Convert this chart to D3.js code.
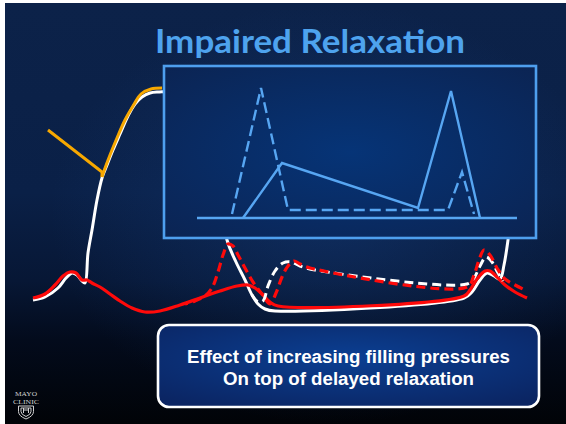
<!DOCTYPE html>
<html>
<head>
<meta charset="utf-8">
<script src="https://cdn.jsdelivr.net/npm/d3@7"></script>
<style>
  html, body { margin: 0; padding: 0; background: #fff; }
  svg { display: block; }
</style>
</head>
<body>
<svg id="chart" width="566" height="424"></svg>
<script>
// ---- Pressure tracings: [time (ms), pressure (mmHg)] ----
const lvSolid = [
  [6, 7.5], [30, 9], [56, 13.5], [72, 18.5], [84, 21], [94, 20], [104, 17], [110, 16],
  [116, 31], [124, 42.5], [134, 57.5], [144, 68.5], [154, 75], [166, 82.5], [180, 90.5],
  [196, 99.5], [210, 105.5], [224, 109], [240, 111], [256, 111.5], [270, 111.5],
  [320, 107.5], [370, 72.5], [394, 37.5], [412, 26.5], [430, 17.5], [444, 10], [456, 5.5],
  [470, 3], [490, 2], [868, 8.5], [884, 11.5], [900, 17.5], [914, 21], [928, 19.5],
  [940, 18], [948, 25], [956, 37.5], [970, 67.5]
];
const laSolid = [
  [6, 8.5], [30, 10.5], [50, 15], [66, 19.5], [80, 21.5], [92, 21], [104, 17.5], [114, 17.5],
  [124, 16], [140, 14], [160, 10.5], [180, 7], [204, 3.5], [230, 1.5], [260, 2], [300, 5],
  [340, 8.5], [380, 12], [414, 14.5], [436, 15], [450, 13.5], [464, 10.5], [480, 6.5],
  [496, 4.5], [868, 9.5], [880, 12.5], [894, 18], [910, 22], [920, 22], [934, 19],
  [950, 15], [970, 11.5], [994, 8.5]
];
const lvDashed = [
  [444, 10], [456, 6.5], [466, 7], [476, 14.5], [490, 22], [506, 26], [522, 26.5],
  [540, 24.5], [570, 22.5], [874, 15.5], [888, 18.5], [900, 24.5], [912, 29], [924, 26.5],
  [936, 21], [946, 17]
];
const laDashed = [
  [310, 5.5], [330, 7], [350, 9.5], [364, 13.5], [376, 21.5], [386, 30], [396, 35.5],
  [406, 34.5], [416, 30], [430, 23.5], [446, 16.5], [464, 10.5], [480, 5.5], [492, 11],
  [504, 19], [516, 24.5], [528, 27], [540, 25.5], [560, 23.5], [874, 14], [888, 20],
  [898, 27.5], [908, 32.5], [920, 30], [934, 23.5], [950, 18], [970, 15], [990, 12.5]
];
const aortic = [
  [36, 92.5], [144, 71.5], [144, 69], [148, 72], [160, 80], [174, 88.5], [190, 97.5],
  [206, 104.5], [222, 110.5], [242, 113], [264, 113.5]
];

// ---- Mitral inflow Doppler: [time (ms), velocity (cm/s)] ----
const dopplerBaseline = [[0, 0], [800, 0]];
const dopplerDelayed = [[115, 0], [212.5, 55], [552.5, 10], [635, 127], [707.5, 0]];
const dopplerFilling = [[87.5, 4], [160, 130], [227.5, 8], [627.5, 8], [662.5, 46], [692.5, 4]];

// ---- Text ----
const titleText = "Impaired Relaxation";
const noteLines = ["Effect of increasing filling pressures", "On top of delayed relaxation"];
const noteWidths = [323, 251];
const logoLines = ["MAYO", "CLINIC"];

const svg = d3.select("#chart");
const defs = svg.append("defs");

// background gradients
const bg = defs.append("linearGradient").attr("id", "bgFade")
  .attr("x1", 0).attr("y1", 0).attr("x2", 0).attr("y2", 1);
[[0, "#0c2249"], [0.45, "#0a2047"], [0.66, "#071735"], [0.8, "#030b1c"], [1, "#010307"]]
  .forEach(([o, c]) => bg.append("stop").attr("offset", o).attr("stop-color", c));

const glow = defs.append("radialGradient").attr("id", "bgGlow")
  .attr("cx", 0.58).attr("cy", 0.5).attr("r", 0.5);
glow.append("stop").attr("offset", 0).attr("stop-color", "#1a4c9a").attr("stop-opacity", 0.35);
glow.append("stop").attr("offset", 1).attr("stop-color", "#1a4c9a").attr("stop-opacity", 0);

const insetFill = defs.append("radialGradient").attr("id", "insetFill")
  .attr("cx", 0.5).attr("cy", 0.5).attr("r", 0.7);
insetFill.append("stop").attr("offset", 0).attr("stop-color", "#063477");
insetFill.append("stop").attr("offset", 1).attr("stop-color", "#0b2453");

const noteFill = defs.append("radialGradient").attr("id", "noteFill")
  .attr("cx", 0.5).attr("cy", 0.4).attr("r", 0.7);
noteFill.append("stop").attr("offset", 0).attr("stop-color", "#0b3f92");
noteFill.append("stop").attr("offset", 1).attr("stop-color", "#0b2563");

svg.append("rect").attr("x", 5).attr("y", 3).attr("width", 561).attr("height", 421)
  .attr("fill", "url(#bgFade)");
svg.append("rect").attr("x", 5).attr("y", 3).attr("width", 561).attr("height", 421)
  .attr("fill", "url(#bgGlow)");

// ---- scales ----
const x = d3.scaleLinear().domain([0, 1000]).range([30, 530]);
const y = d3.scaleLinear().domain([0, 115]).range([315, 85]);
const ix = d3.scaleLinear().domain([0, 800]).range([197, 517]);
const iy = d3.scaleLinear().domain([0, 130]).range([218, 88]);

const smooth = d3.line().x(d => x(d[0])).y(d => y(d[1])).curve(d3.curveCatmullRom.alpha(0.5));
const straight = d3.line().x(d => x(d[0])).y(d => y(d[1]));
const dline = d3.line().x(d => ix(d[0])).y(d => iy(d[1]));

const traces = svg.append("g").attr("fill", "none")
  .attr("stroke-linejoin", "round").attr("stroke-linecap", "butt");

traces.append("path").attr("d", smooth(lvSolid))
  .attr("stroke", "#ffffff").attr("stroke-width", 3);
traces.append("path").attr("d", smooth(laSolid))
  .attr("stroke", "#ff0a0a").attr("stroke-width", 3.2);
traces.append("path").attr("d", smooth(lvDashed))
  .attr("stroke", "#ffffff").attr("stroke-width", 3).attr("stroke-dasharray", "9,5");
traces.append("path").attr("d", smooth(laDashed))
  .attr("stroke", "#ff0a0a").attr("stroke-width", 3.2).attr("stroke-dasharray", "9,5")
  .attr("stroke-dashoffset", 6);
traces.append("path").attr("d", straight(aortic.slice(0, 3)))
  .attr("stroke", "#f7a800").attr("stroke-width", 3);
traces.append("path").attr("d", smooth(aortic.slice(2)))
  .attr("stroke", "#f7a800").attr("stroke-width", 3);

// ---- Doppler inset ----
svg.append("rect").attr("x", 164).attr("y", 66).attr("width", 372).attr("height", 172)
  .attr("fill", "url(#insetFill)").attr("stroke", "#4e9fee").attr("stroke-width", 2.6);

const dop = svg.append("g").attr("fill", "none").attr("stroke", "#57a6f2")
  .attr("stroke-width", 2.4).attr("stroke-linejoin", "miter");
dop.append("path").attr("d", dline(dopplerBaseline));
dop.append("path").attr("d", dline(dopplerDelayed));
dop.append("path").attr("d", dline(dopplerFilling)).attr("stroke-dasharray", "11,5");

// ---- title ----
svg.append("text").attr("x", 310).attr("y", 53)
  .attr("text-anchor", "middle")
  .attr("font-family", "Lato, 'Open Sans', sans-serif")
  .attr("font-weight", 700).attr("font-size", 32)
  .attr("fill", "#4ea3ee")
  .attr("textLength", 310).attr("lengthAdjust", "spacingAndGlyphs")
  .text(titleText);

// ---- note box ----
svg.append("rect").attr("x", 158).attr("y", 325).attr("width", 381).attr("height", 82)
  .attr("rx", 11).attr("ry", 11)
  .attr("fill", "url(#noteFill)").attr("stroke", "#ffffff").attr("stroke-width", 2.6);

svg.append("g")
  .attr("font-family", "'Liberation Sans', Arial, sans-serif")
  .attr("font-weight", 700).attr("font-size", 18).attr("fill", "#ffffff")
  .attr("text-anchor", "middle")
  .selectAll("text").data(noteLines).join("text")
  .attr("x", 348.5).attr("y", (d, i) => 363 + i * 22)
  .attr("textLength", (d, i) => noteWidths[i]).attr("lengthAdjust", "spacingAndGlyphs")
  .text(d => d);

// ---- logo ----
const logo = svg.append("g").attr("fill", "#d0d0d0");
logo.selectAll("text").data(logoLines).join("text")
  .attr("x", 26).attr("y", (d, i) => 396 + i * 7.5)
  .attr("text-anchor", "middle")
  .attr("font-family", "'Liberation Serif', 'DejaVu Serif', serif")
  .attr("font-size", 6.5)
  .attr("textLength", (d, i) => i ? 26 : 22).attr("lengthAdjust", "spacingAndGlyphs")
  .text(d => d);
logo.append("path")
  .attr("d", "M18.5,406 L33.5,406 L33.5,411.5 Q33.5,416 26,419 Q18.5,416 18.5,411.5 Z M21,408 L21,411.5 Q21,414.5 26,416.5 Q31,414.5 31,411.5 L31,408 Z M23.5,408 L23.5,413 M28.5,408 L28.5,413 M23.5,410 L28.5,410")
  .attr("fill", "none").attr("stroke", "#d0d0d0").attr("stroke-width", 1);
</script>
</body>
</html>
